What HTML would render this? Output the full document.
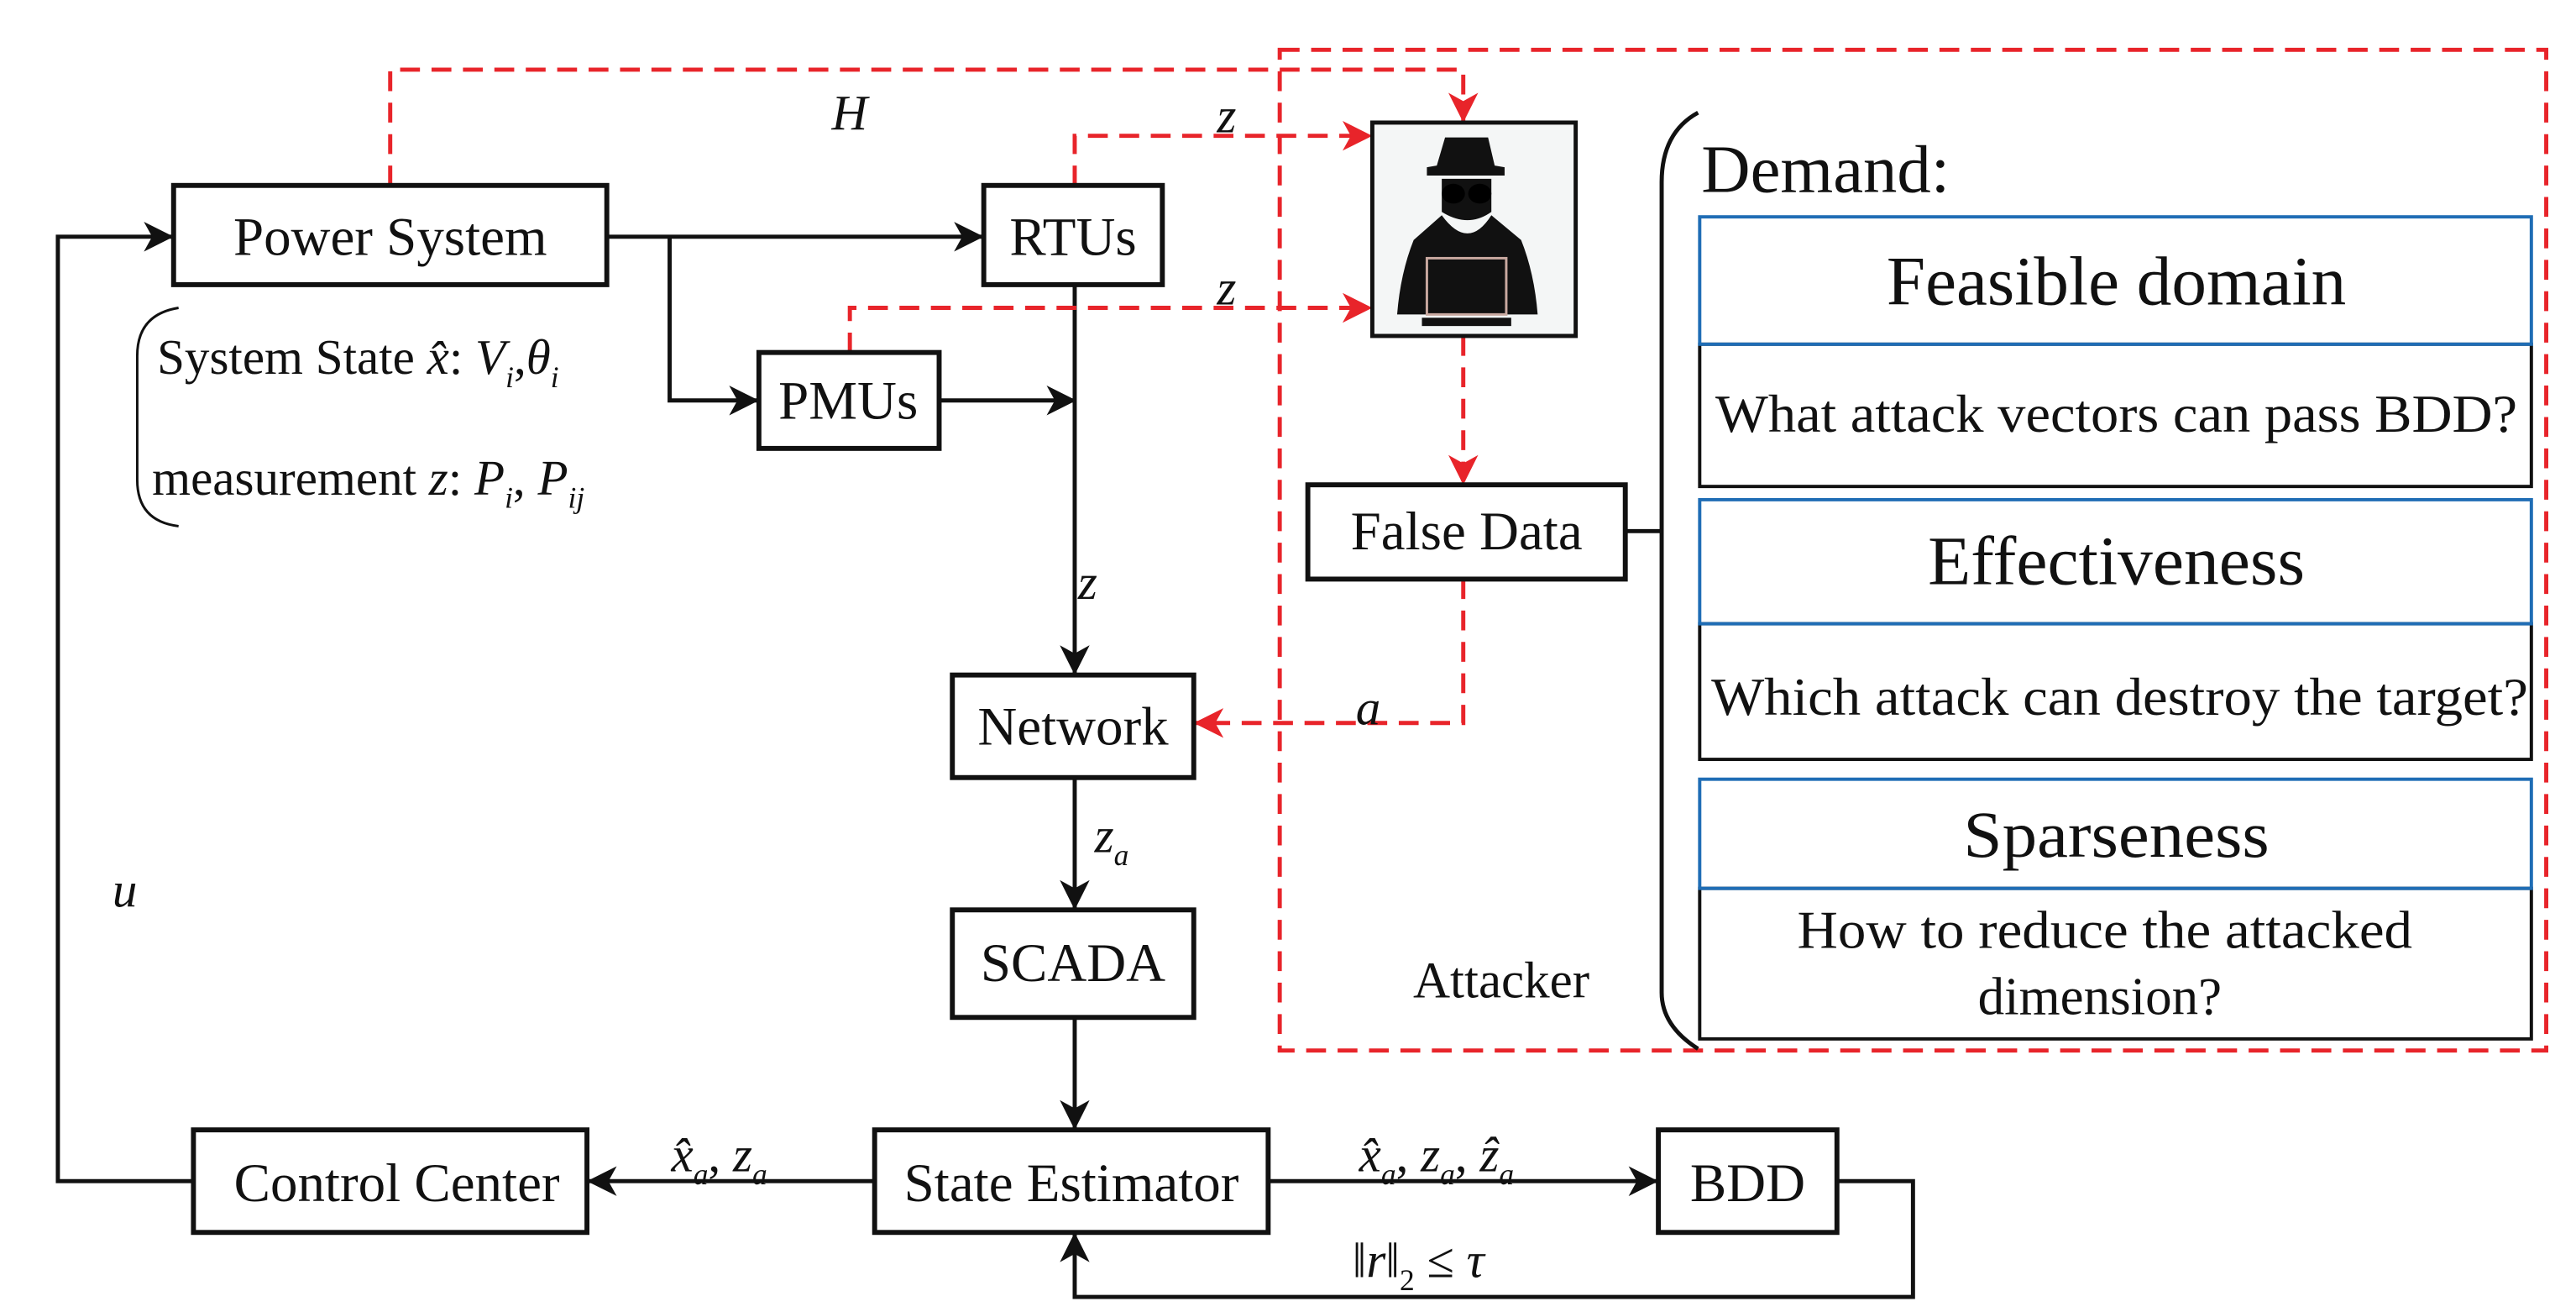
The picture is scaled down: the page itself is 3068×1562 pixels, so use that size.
<!DOCTYPE html>
<html><head><meta charset="utf-8"><style>
html,body{margin:0;padding:0;background:#fff}
svg{display:block}
text{font-family:"Liberation Serif",serif;fill:#111}
.it{font-style:italic}
</style></head><body>
<svg width="3068" height="1562" viewBox="0 0 1558 793" xmlns="http://www.w3.org/2000/svg">
<defs>
<marker id="ab" markerWidth="20" markerHeight="20" refX="18" refY="9" orient="auto" markerUnits="userSpaceOnUse">
<path d="M0,0 L18,9 L0,18 L5,9 Z" fill="#111"/></marker>
<marker id="ar" markerWidth="20" markerHeight="20" refX="18" refY="9" orient="auto" markerUnits="userSpaceOnUse">
<path d="M0,0 L18,9 L0,18 L5,9 Z" fill="#e8242a"/></marker>
</defs>

<rect x="774" y="30" width="766" height="605" fill="none" stroke="#e8242a" stroke-width="2.5" stroke-dasharray="12,7"/>

<g stroke="#111" stroke-width="2.5" fill="none">
<line x1="367" y1="143" x2="595" y2="143" marker-end="url(#ab)"/>
<polyline points="405,143 405,242 459,242" marker-end="url(#ab)"/>
<line x1="568" y1="242" x2="651" y2="242" marker-end="url(#ab)"/>
<line x1="650" y1="172" x2="650" y2="408" marker-end="url(#ab)"/>
<line x1="650" y1="470" x2="650" y2="550" marker-end="url(#ab)"/>
<line x1="650" y1="615" x2="650" y2="683" marker-end="url(#ab)"/>
<line x1="529" y1="714" x2="355" y2="714" marker-end="url(#ab)"/>
<line x1="767" y1="714" x2="1003" y2="714" marker-end="url(#ab)"/>
<polyline points="1111,714 1157,714 1157,784 650,784 650,745" marker-end="url(#ab)"/>
<polyline points="117,714 35,714 35,143 105,143" marker-end="url(#ab)"/>
<line x1="983" y1="321" x2="1005" y2="321"/>
</g>

<g stroke="#e8242a" stroke-width="2.5" fill="none" stroke-dasharray="12,7">
<polyline points="236,112 236,42 885,42 885,74" marker-end="url(#ar)"/>
<polyline points="650,112 650,82 830,82" marker-end="url(#ar)"/>
<polyline points="514,213 514,186 830,186" marker-end="url(#ar)"/>
<line x1="885" y1="203" x2="885" y2="293" marker-end="url(#ar)"/>
<polyline points="885,350 885,437 722,437" marker-end="url(#ar)"/>
</g>

<g fill="#fff" stroke="#111" stroke-width="3">
<rect x="105" y="112" width="262" height="60"/>
<rect x="595" y="112" width="108" height="60"/>
<rect x="459" y="213" width="109" height="58"/>
<rect x="576" y="408" width="146" height="62"/>
<rect x="576" y="550" width="146" height="65"/>
<rect x="117" y="683" width="238" height="62"/>
<rect x="529" y="683" width="238" height="62"/>
<rect x="1003" y="683" width="108" height="62"/>
<rect x="791" y="293" width="192" height="57"/>
</g>
<g font-size="33" text-anchor="middle">
<text x="236" y="154">Power System</text>
<text x="649" y="154">RTUs</text>
<text x="513" y="253">PMUs</text>
<text x="649" y="450">Network</text>
<text x="649" y="593">SCADA</text>
<text x="240" y="726">Control Center</text>
<text x="648" y="726">State  Estimator</text>
<text x="1057" y="726">BDD</text>
<text x="887" y="332">False Data</text>
</g>

<rect x="830" y="74" width="123" height="129" fill="#f4f6f6" stroke="#111" stroke-width="2.5"/>
<g fill="#111">
<path d="M869,100 L874,83 L900,83 L904,100 L910,101 L910,106 L863,106 L863,101 Z"/>
<path d="M872,108 L902,108 L902,128 Q888,138 872,128 Z"/>
<ellipse cx="879" cy="117" rx="7" ry="6" fill="#000"/>
<ellipse cx="895" cy="117" rx="7" ry="6" fill="#000"/>
<path d="M872,130 Q888,152 902,130 L920,145 Q928,165 930,190 L845,190 Q847,165 855,145 Z"/>
<rect x="863" y="156" width="48" height="34" fill="#111" stroke="#c9a9a0" stroke-width="1.5"/>
<rect x="860" y="192" width="54" height="5"/>
</g>

<path d="M1027,68 Q1005,80 1005,110 L1005,600 Q1005,620 1027,634" fill="none" stroke="#111" stroke-width="2.5"/>
<text x="1029" y="116" font-size="41">Demand:</text>

<g fill="none" stroke-width="2">
<rect x="1028" y="208" width="503" height="86" stroke="#111"/>
<rect x="1028" y="131" width="503" height="77" stroke="#1f6db5"/>
<rect x="1028" y="377" width="503" height="82" stroke="#111"/>
<rect x="1028" y="302" width="503" height="75" stroke="#1f6db5"/>
<rect x="1028" y="537" width="503" height="91" stroke="#111"/>
<rect x="1028" y="471" width="503" height="66" stroke="#1f6db5"/>
</g>
<g text-anchor="middle">
<text x="1280" y="184" font-size="42" textLength="278" lengthAdjust="spacingAndGlyphs">Feasible domain</text>
<text x="1280" y="261" font-size="32" textLength="485" lengthAdjust="spacingAndGlyphs">What attack vectors can pass BDD?</text>
<text x="1280" y="353" font-size="42" textLength="228" lengthAdjust="spacingAndGlyphs">Effectiveness</text>
<text x="1282" y="432" font-size="32" textLength="494" lengthAdjust="spacingAndGlyphs">Which attack can destroy the target?</text>
<text x="1280" y="518" font-size="40" textLength="185" lengthAdjust="spacingAndGlyphs">Sparseness</text>
<text x="1273" y="573" font-size="32" textLength="372" lengthAdjust="spacingAndGlyphs">How to reduce the attacked</text>
<text x="1270" y="613" font-size="32">dimension?</text>
</g>
<text x="908" y="603" font-size="31" text-anchor="middle">Attacker</text>

<path d="M108,186 Q83,190 83,215 L83,290 Q83,315 108,318" fill="none" stroke="#111" stroke-width="1.5"/>
<text x="95" y="226" font-size="30">System State <tspan class="it">x̂</tspan>: <tspan class="it">V</tspan><tspan class="it" font-size="18" dy="8">i</tspan><tspan dy="-8">,</tspan><tspan class="it">θ</tspan><tspan class="it" font-size="18" dy="8">i</tspan></text>
<text x="92" y="299" font-size="30">measurement <tspan class="it">z</tspan>:  <tspan class="it">P</tspan><tspan class="it" font-size="18" dy="8">i</tspan><tspan dy="-8">, </tspan><tspan class="it">P</tspan><tspan class="it" font-size="18" dy="8">ij</tspan></text>

<g class="it" font-size="30">
<text x="503" y="78" class="it">H</text>
<text x="736" y="80" class="it">z</text>
<text x="736" y="184" class="it">z</text>
<text x="652" y="362" class="it">z</text>
<text x="820" y="438" class="it">a</text>
<text x="662" y="515" class="it">z<tspan font-size="18" dy="8">a</tspan></text>
<text x="68" y="548" class="it">u</text>
<text x="406" y="708" class="it">x̂<tspan font-size="18" dy="8">a</tspan><tspan dy="-8" font-style="normal">, </tspan>z<tspan font-size="18" dy="8">a</tspan></text>
<text x="822" y="708" class="it">x̂<tspan font-size="18" dy="8">a</tspan><tspan dy="-8" font-style="normal">, </tspan>z<tspan font-size="18" dy="8">a</tspan><tspan dy="-8" font-style="normal">, </tspan>ẑ<tspan font-size="18" dy="8">a</tspan></text>
<text x="818" y="772"><tspan font-style="normal">‖</tspan>r<tspan font-style="normal">‖</tspan><tspan font-size="18" dy="8" font-style="normal">2</tspan><tspan dy="-8" font-style="normal"> ≤ </tspan>τ</text>
</g>
</svg>
</body></html>
